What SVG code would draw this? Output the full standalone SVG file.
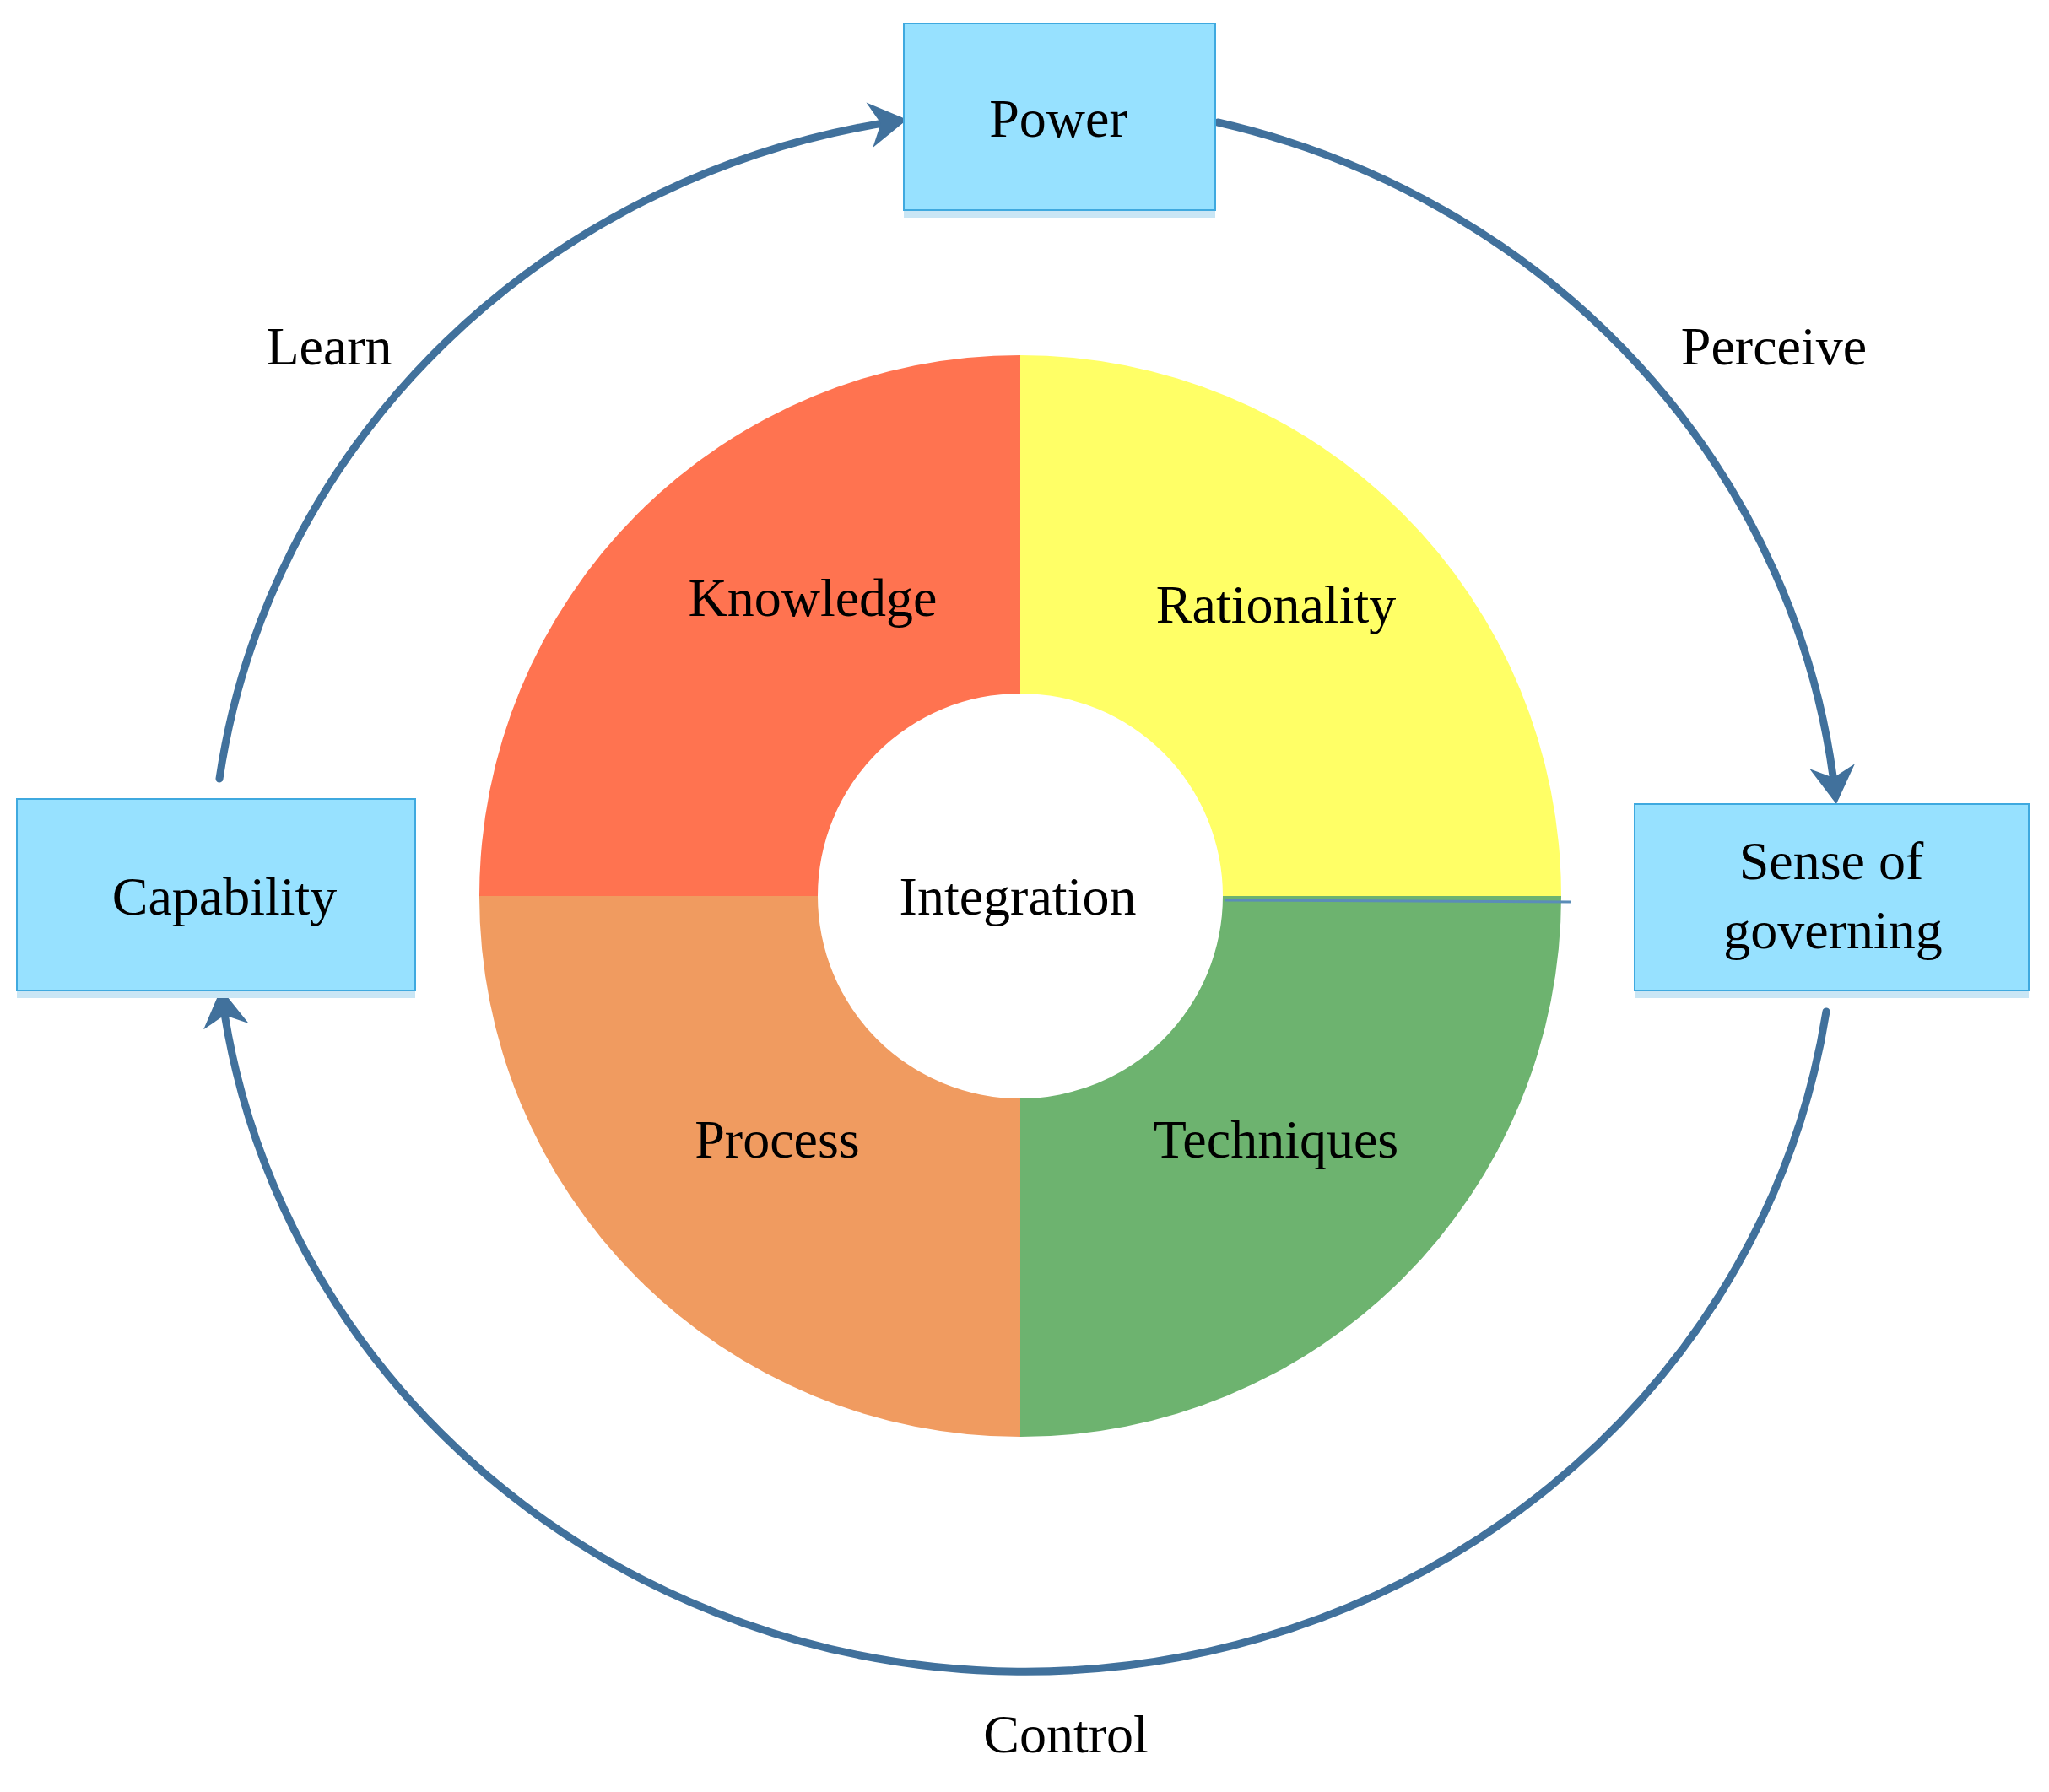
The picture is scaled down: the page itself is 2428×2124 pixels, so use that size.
<svg xmlns="http://www.w3.org/2000/svg" width="2428" height="2124" viewBox="0 0 2428 2124">
<defs>
<marker id="ah" markerWidth="6" markerHeight="6" refX="4" refY="3" orient="auto" markerUnits="strokeWidth"><path d="M0,0 L5,3 L0,6 L1.5,3 Z" fill="#41719C"/></marker>
<style>
text{font-family:"Liberation Serif","Times New Roman",serif;font-size:64px;fill:#000;text-anchor:middle;dominant-baseline:central}
.box{fill:#97E1FF;stroke:#3FA9DF;stroke-width:2}
.sh{fill:#C9E6F5}
.arc{fill:none;stroke:#41719C;stroke-width:9;stroke-linecap:round}
</style>
</defs>
<rect width="2428" height="2124" fill="#fff"/>
<g id="donut">
<path d="M1209,421 A641,641 0 0 0 568,1062 L969,1062 A240,240 0 0 1 1209,822 Z" fill="#FF7350"/>
<path d="M1209,421 A641,641 0 0 1 1850,1062 L1449,1062 A240,240 0 0 0 1209,822 Z" fill="#FFFF66"/>
<path d="M568,1062 A641,641 0 0 0 1209,1703 L1209,1302 A240,240 0 0 1 969,1062 Z" fill="#F09B60"/>
<path d="M1850,1062 A641,641 0 0 1 1209,1703 L1209,1302 A240,240 0 0 0 1449,1062 Z" fill="#6DB36F"/>
<line x1="1452" y1="1067" x2="1862" y2="1069" stroke="#5B8DB8" stroke-width="3"/>
<text x="963" y="708">Knowledge</text>
<text x="1512" y="716">Rationality</text>
<text x="1206" y="1062">Integration</text>
<text x="921" y="1350">Process</text>
<text x="1512" y="1350">Techniques</text>
</g>
<g id="connectors">
<path class="arc" d="M260,923 A960,920 0 0 1 1066,143" marker-end="url(#ah)"/>
<path class="arc" d="M1443,145 A960,920 0 0 1 2175,944" marker-end="url(#ah)"/>
<path class="arc" d="M2164,1199 A960,920 0 0 1 263,1181" marker-end="url(#ah)"/>
<text x="390" y="410">Learn</text>
<text x="2102" y="410">Perceive</text>
<text x="1263" y="2055">Control</text>
</g>
<g id="power">
<rect class="sh" x="1071" y="249" width="369" height="9"/>
<rect class="box" x="1071" y="28" width="369" height="221"/>
<text x="1254" y="140">Power</text>
</g>
<g id="capability">
<rect class="sh" x="20" y="1174" width="472" height="9"/>
<rect class="box" x="20" y="947" width="472" height="227"/>
<text x="266" y="1062">Capability</text>
</g>
<g id="sense">
<rect class="sh" x="1937" y="1174" width="467" height="9"/>
<rect class="box" x="1937" y="953" width="467" height="221"/>
<text x="2170" y="1020">Sense of</text>
<text x="2172" y="1102">governing</text>
</g>
</svg>
